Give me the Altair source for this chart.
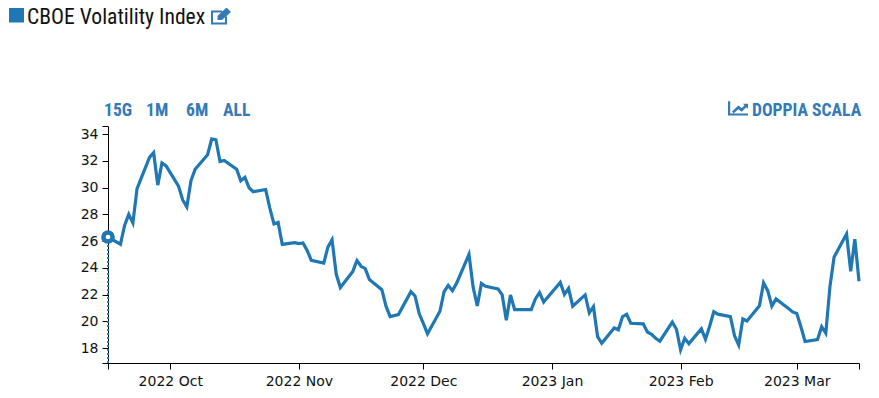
import altair as alt
import pandas as pd

dates = [
 "2022-09-16","2022-09-19","2022-09-20","2022-09-21","2022-09-22","2022-09-23","2022-09-26","2022-09-27","2022-09-28","2022-09-29","2022-09-30",
 "2022-10-03","2022-10-04","2022-10-05","2022-10-06","2022-10-07","2022-10-10","2022-10-11","2022-10-12","2022-10-13","2022-10-14",
 "2022-10-17","2022-10-18","2022-10-19","2022-10-20","2022-10-21","2022-10-24","2022-10-25","2022-10-26","2022-10-27","2022-10-28","2022-10-31",
 "2022-11-01","2022-11-02","2022-11-03","2022-11-04","2022-11-07","2022-11-08","2022-11-09","2022-11-10","2022-11-11",
 "2022-11-14","2022-11-15","2022-11-16","2022-11-17","2022-11-18","2022-11-21","2022-11-22","2022-11-23","2022-11-25","2022-11-28","2022-11-29","2022-11-30",
 "2022-12-01","2022-12-02","2022-12-05","2022-12-06","2022-12-07","2022-12-08","2022-12-09","2022-12-12","2022-12-13","2022-12-14","2022-12-15","2022-12-16",
 "2022-12-19","2022-12-20","2022-12-21","2022-12-22","2022-12-23","2022-12-26","2022-12-27","2022-12-28","2022-12-29","2022-12-30",
 "2023-01-03","2023-01-04","2023-01-05","2023-01-06","2023-01-09","2023-01-10","2023-01-11","2023-01-12","2023-01-13",
 "2023-01-16","2023-01-17","2023-01-18","2023-01-19","2023-01-20","2023-01-23","2023-01-24","2023-01-25","2023-01-26","2023-01-27","2023-01-30","2023-01-31",
 "2023-02-01","2023-02-02","2023-02-03","2023-02-06","2023-02-07","2023-02-08","2023-02-09","2023-02-10","2023-02-13","2023-02-14","2023-02-15","2023-02-16","2023-02-17",
 "2023-02-20","2023-02-21","2023-02-22","2023-02-23","2023-02-24","2023-02-27","2023-02-28",
 "2023-03-01","2023-03-02","2023-03-03","2023-03-06","2023-03-07","2023-03-08","2023-03-09","2023-03-10","2023-03-13","2023-03-14","2023-03-15","2023-03-16",
]
vix = [
 26.30,25.76,27.16,27.99,27.35,29.92,32.26,32.60,30.18,31.84,31.62,
 30.10,29.07,28.55,30.52,31.36,32.45,33.63,33.57,31.94,32.02,
 31.37,30.50,30.76,29.98,29.69,29.85,28.46,27.28,27.39,25.75,25.88,
 25.81,25.86,25.30,24.55,24.35,25.54,26.09,23.53,22.52,
 23.73,24.54,24.11,23.93,23.12,22.36,21.13,20.35,20.50,22.21,21.89,20.58,
 19.84,19.06,20.75,22.21,22.68,22.29,22.83,25.00,22.55,21.14,22.83,22.62,
 22.42,21.97,20.07,21.97,20.87,20.87,20.87,21.67,22.14,21.44,
 22.90,22.01,22.46,21.13,21.97,20.63,21.09,18.85,18.35,
 19.50,19.36,20.34,20.52,19.85,19.81,19.20,19.03,18.73,18.51,19.94,19.40,
 17.87,18.73,18.33,19.43,18.66,19.63,20.71,20.53,20.34,18.91,18.23,20.17,20.02,
 21.15,22.87,22.29,21.14,21.67,20.95,20.70,
 20.58,19.59,18.49,18.63,19.59,19.11,22.61,24.80,26.52,23.73,26.14,22.99,
]
series_name = "CBOE Volatility Index"
range_buttons = ["15G", "1M", "6M", "ALL"]
scale_button = "DOPPIA SCALA"
y_ticks = [16.88, 18, 20, 22, 24, 26, 28, 30, 32, 34, 34.6]
x_ticks = ["2022-09-16", "2022-10-01", "2022-11-01", "2022-12-01", "2023-01-01", "2023-02-01", "2023-03-01", "2023-03-16"]

LINE = "#1f77b4"
BTN = "#337ab7"
NARROW = "Roboto Condensed"

df = pd.DataFrame({"date": [d + "T00:00:00" for d in dates], "vix": vix})
def dt(s):
    y, m, d = s.split("-")
    return alt.DateTime(year=int(y), month=int(m), date=int(d))

x_enc = alt.X("date:T", title=None,
    scale=alt.Scale(domain=[dt("2022-09-16").to_dict(), dt("2023-03-16").to_dict()]),
    axis=alt.Axis(values=[dt(t) for t in x_ticks], grid=False, domainColor="black", tickColor="black",
                  tickSize=6, labelFont="DejaVu Sans", labelFontSize=14, labelColor="#111", labelPadding=5,
                  labelOverlap=False, labelFlush=False,
                  labelExpr="date(datum.value)==1 ? timeFormat(datum.value,'%Y %b') : ''"))
y_enc = alt.Y("vix:Q", title=None,
    scale=alt.Scale(domain=[16.88, 34.6], nice=False, zero=False),
    axis=alt.Axis(values=y_ticks, grid=False, domainColor="black", tickColor="black", tickSize=6,
                  labelFont="DejaVu Sans", labelFontSize=14, labelColor="#111", labelPadding=4, labelOverlap=False,
                  labelExpr="datum.value==round(datum.value) ? datum.value : ''"))

line = alt.Chart(df).mark_line(color=LINE, strokeWidth=3.2, strokeJoin="miter").encode(x=x_enc, y=y_enc)

first = df.iloc[[0]]
rule = alt.Chart(first).mark_rule(color=LINE, strokeWidth=2, strokeDash=[2, 2]).encode(
    x=x_enc, y=y_enc, y2=alt.Y2(datum=16.88))
dot = alt.Chart(first).mark_point(color=LINE, fill="white", filled=False, size=85, strokeWidth=4.5, opacity=1, fillOpacity=1).encode(
    x=x_enc, y=y_enc)

def label(txt, x, y, size, color, bold=False, align="left"):
    return alt.Chart(pd.DataFrame({"t": [txt]})).mark_text(
        font=NARROW, fontSize=size, fontWeight="bold" if bold else "normal",
        color=color, align=align, baseline="middle").encode(
        x=alt.value(x), y=alt.value(y), text="t:N")

def icon(path, x, y, size, filled=True):
    return alt.Chart(pd.DataFrame({"t": [0]})).mark_point(
        shape=path, size=size, filled=filled, color=BTN, opacity=1, strokeWidth=0).encode(x=alt.value(x), y=alt.value(y))

OX, OY = 108, 126
swatch = alt.Chart(pd.DataFrame({"t": [0]})).mark_square(color=LINE, size=225, opacity=1).encode(
    x=alt.value(16.5 - OX), y=alt.value(15 - OY))
title = label(series_name, 27 - OX, 17.5 - OY, 21.6, "#111")
btn_x = [104, 146, 186, 223]
btns = [label(t, x - OX, 110.5 - OY, 17.6, BTN, True) for t, x in zip(range_buttons, btn_x)]
scale_lbl = label(scale_button, 752 - OX, 110.5 - OY, 17.6, BTN, True)

edit_ic = icon("M-1 -0.55H0.1V-0.35H-0.8V0.65H0.4V0.05H0.6V0.85H-1Z"
               "M-0.35 0.4V0L0.55 -0.85L1 -0.4L0.1 0.4Z", 221 - OX, 16 - OY, 400)
chart_ic = icon("M-1 -0.73H-0.78V0.5H1V0.7H-1Z"
                "M-0.6 0.3L0.03 -0.3L0.37 -0.05L0.65 -0.3L0.5 -0.47H1V0.03L0.83 -0.12L0.37 0.33L0.03 0.07L-0.45 0.5Z",
                738 - OX, 108.5 - OY, 400)

chart = alt.layer(
    line, rule, dot, swatch, title, *btns, scale_lbl, edit_ic, chart_ic).properties(
    width=751, height=237, autosize="none",
    padding={"left": 100, "top": 118, "right": 12, "bottom": 27}
).configure_view(stroke=None)

chart.save("out.html", embed_options={"renderer": "svg", "actions": False})
